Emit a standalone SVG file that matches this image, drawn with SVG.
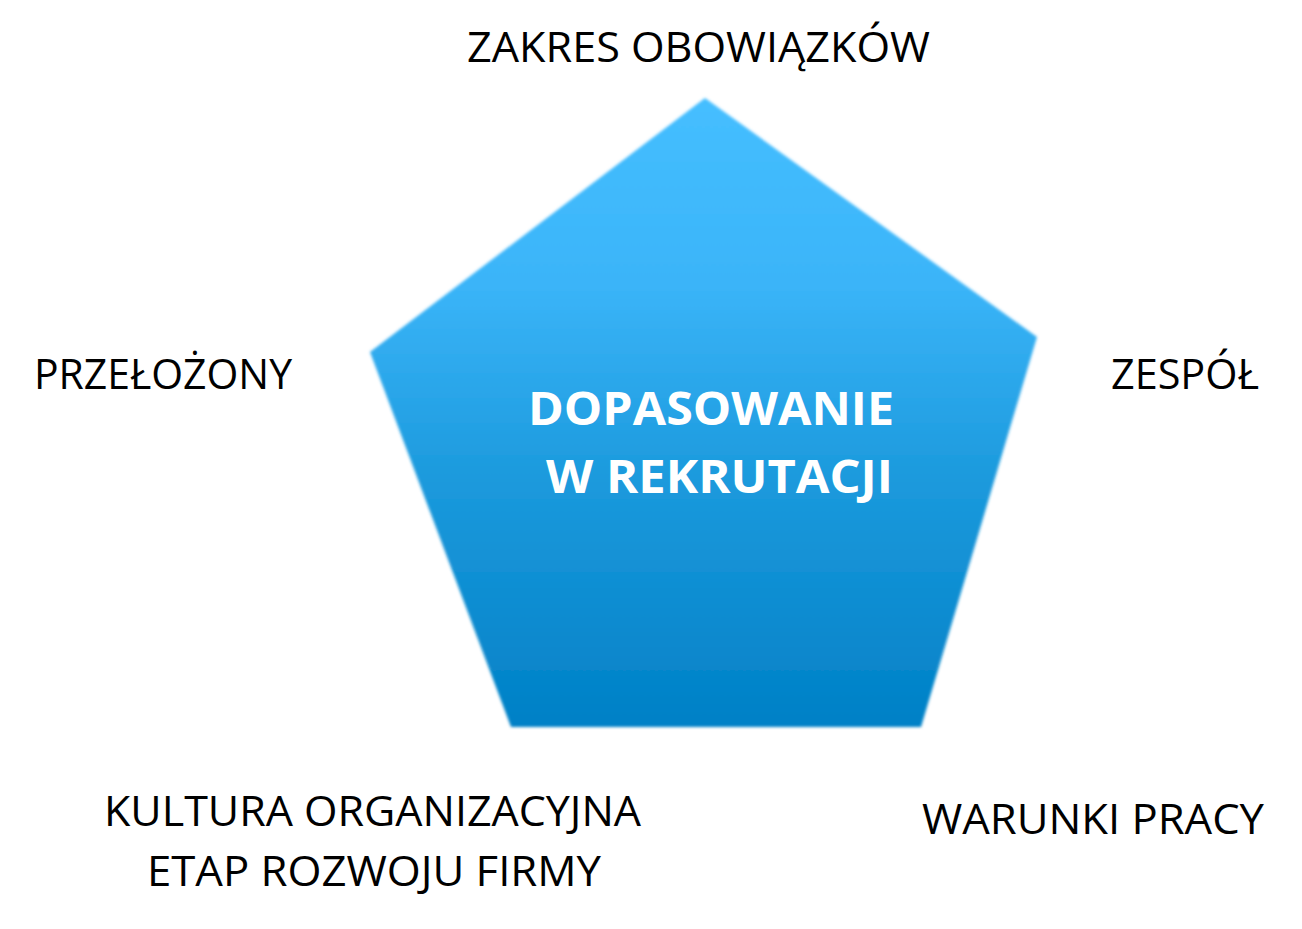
<svg xmlns="http://www.w3.org/2000/svg" width="1302" height="929" viewBox="0 0 1302 929">
<style>
.lbl{font-family:"Open Sans","Liberation Sans",sans-serif;font-size:42px;fill:#000}
.ctr{font-family:"Open Sans","Liberation Sans",sans-serif;font-size:46px;font-weight:bold;fill:#fff}
</style>
<defs>
<linearGradient id="g" x1="0" y1="0" x2="0" y2="1">
<stop offset="0" stop-color="#45BEFF"/>
<stop offset="0.3" stop-color="#3AB4F8"/>
<stop offset="0.6" stop-color="#1C9ADD"/>
<stop offset="1" stop-color="#0080C6"/>
</linearGradient>
<filter id="soft" x="-5%" y="-5%" width="110%" height="110%">
<feGaussianBlur stdDeviation="1.6"/>
</filter>
</defs>
<rect width="1302" height="929" fill="#fff"/>
<g id="pentagon">
<polygon points="705,98 1037,337 921,727 511,727 370,352" fill="url(#g)" filter="url(#soft)"/>
<text class="ctr" x="528" y="425" textLength="366" lengthAdjust="spacingAndGlyphs">DOPASOWANIE</text>
<text class="ctr" x="546" y="493" textLength="347" lengthAdjust="spacingAndGlyphs">W REKRUTACJI</text>
</g>
<g id="connectors"></g>
<g id="zakres"><text class="lbl" x="467" y="62" textLength="463" lengthAdjust="spacingAndGlyphs">ZAKRES OBOWIĄZKÓW</text></g>
<g id="przelozony"><text class="lbl" x="34" y="389" textLength="258" lengthAdjust="spacingAndGlyphs">PRZEŁOŻONY</text></g>
<g id="zespol"><text class="lbl" x="1111" y="389" textLength="148" lengthAdjust="spacingAndGlyphs">ZESPÓŁ</text></g>
<g id="kultura">
<text class="lbl" x="104" y="826" textLength="537" lengthAdjust="spacingAndGlyphs">KULTURA ORGANIZACYJNA</text>
<text class="lbl" x="147" y="886" textLength="454" lengthAdjust="spacingAndGlyphs">ETAP ROZWOJU FIRMY</text>
</g>
<g id="warunki"><text class="lbl" x="922" y="834" textLength="342" lengthAdjust="spacingAndGlyphs">WARUNKI PRACY</text></g>
</svg>
